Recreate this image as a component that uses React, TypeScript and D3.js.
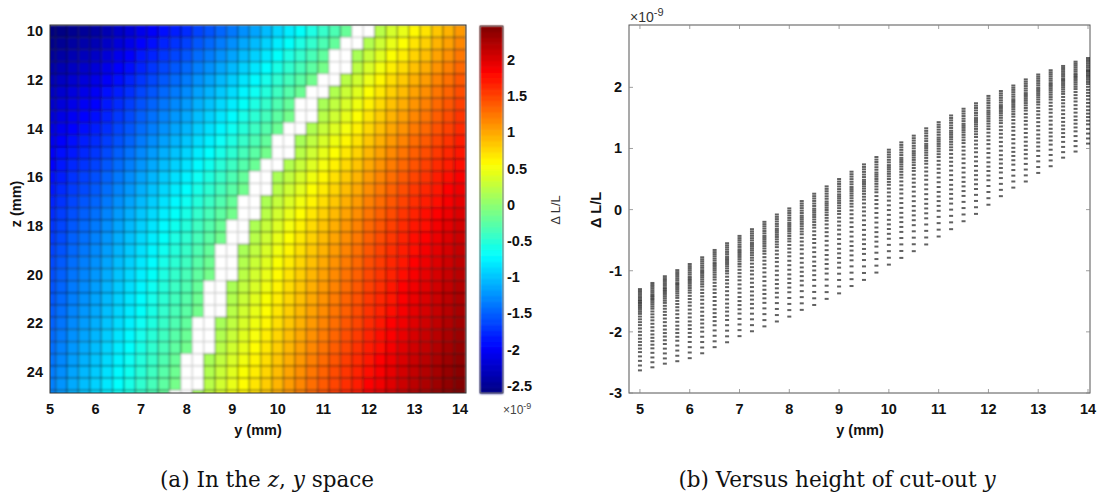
import React from "react";
import * as d3 from "d3";

// Cut-out height y (mm): one heat-map column / one scatter column each
const Y_MM = [
  5, 5.25, 5.5, 5.75, 6, 6.25, 6.5, 6.75, 7, 7.25, 7.5, 7.75, 8, 8.25, 8.5, 8.75,
  9, 9.25, 9.5, 9.75, 10, 10.25, 10.5, 10.75, 11, 11.25, 11.5, 11.75, 12, 12.25,
  12.5, 12.75, 13, 13.25, 13.5, 13.75, 14,
];

// Depth z (mm): heat-map rows
const Z_MM = [
  10, 10.5, 11, 11.5, 12, 12.5, 13, 13.5, 14, 14.5, 15, 15.5, 16, 16.5, 17, 17.5,
  18, 18.5, 19, 19.5, 20, 20.5, 21, 21.5, 22, 22.5, 23, 23.5, 24, 24.5, 25,
];

// ΔL/L (×1e-9) at the largest z for each y column
const COL_MAX = [
  -1.3, -1.2, -1.09, -0.99, -0.89, -0.78, -0.66, -0.55, -0.43, -0.32, -0.2, -0.08,
  0.02, 0.14, 0.26, 0.38, 0.5, 0.62, 0.74, 0.86, 0.98, 1.1, 1.21, 1.33, 1.43, 1.54,
  1.65, 1.74, 1.86, 1.94, 2.03, 2.13, 2.21, 2.28, 2.35, 2.42, 2.48,
];

// ΔL/L (×1e-9) at the smallest z for each y column
const COL_MIN = [
  -2.63, -2.58, -2.52, -2.48, -2.43, -2.35, -2.25, -2.17, -2.07, -1.99, -1.91,
  -1.83, -1.75, -1.64, -1.56, -1.46, -1.37, -1.25, -1.15, -1.03, -0.9, -0.79, -0.68,
  -0.57, -0.44, -0.32, -0.19, -0.07, 0.08, 0.22, 0.36, 0.46, 0.6, 0.71, 0.85, 0.95,
  1.08,
];

// Position of each z row between the column minimum (0) and maximum (1)
const Z_PROFILE = [
  0, 0.06, 0.117, 0.172, 0.225, 0.268, 0.31, 0.35, 0.39, 0.433, 0.475, 0.516,
  0.557, 0.593, 0.628, 0.662, 0.695, 0.72, 0.745, 0.768, 0.79, 0.81, 0.83, 0.848,
  0.866, 0.89, 0.912, 0.935, 0.957, 0.978, 1,
];

// Values inside this band are left blank in the map
const NULL_BAND = [-0.11, 0.13];

const Y_TICKS = [5, 6, 7, 8, 9, 10, 11, 12, 13, 14];
const Z_TICKS = [10, 12, 14, 16, 18, 20, 22, 24];
const CBAR_TICKS = [-2.5, -2, -1.5, -1, -0.5, 0, 0.5, 1, 1.5, 2];
const CBAR_LIMITS = [-2.6, 2.47];
const DL_TICKS = [-3, -2, -1, 0, 1, 2];

const FONT = "'Liberation Sans', Arial, sans-serif";
const SERIF = "'DejaVu Serif', 'Liberation Serif', serif";

function jet(t: number): string {
  const c = (v: number) => Math.max(0, Math.min(1, v));
  const u = c(t);
  const r = c(1.5 - Math.abs(4 * u - 3));
  const g = c(1.5 - Math.abs(4 * u - 2));
  const b = c(1.5 - Math.abs(4 * u - 1));
  return d3.rgb(r * 255, g * 255, b * 255).toString();
}

const cellValue = (j: number, i: number) =>
  COL_MIN[j] + (COL_MAX[j] - COL_MIN[j]) * Z_PROFILE[i];

export default function App() {
  // Heat map frame
  const hx = d3.scaleLinear().domain([5, 14.13]).range([50, 466]);
  const hz = d3.scaleLinear().domain([9.74, 24.86]).range([25, 393]);
  const cNorm = d3.scaleLinear().domain(CBAR_LIMITS).range([0, 1]).clamp(true);

  // Colour bar
  const cb = { x0: 480, x1: 503 };
  const cy = d3.scaleLinear().domain(CBAR_LIMITS).range([393, 26]);
  const nCb = 64;
  const cbStep = (CBAR_LIMITS[1] - CBAR_LIMITS[0]) / nCb;
  const cbSteps = d3.range(nCb).map((k) => CBAR_LIMITS[0] + cbStep * k);

  // Scatter frame
  const sx = d3.scaleLinear().domain([4.78, 14.04]).range([629, 1090]);
  const sy = d3.scaleLinear().domain([-3, 3.02]).range([393, 25]);

  const halfY = 0.125;
  const halfZ = 0.25;

  const cells: JSX.Element[] = [];
  Y_MM.forEach((y, j) => {
    Z_MM.forEach((z, i) => {
      const v = cellValue(j, i);
      const blank = v > NULL_BAND[0] && v < NULL_BAND[1];
      const x0 = hx(y - halfY);
      const x1 = hx(y + halfY);
      const y0 = hz(z - halfZ);
      const y1 = hz(z + halfZ);
      cells.push(
        <rect
          key={`c${j}-${i}`}
          x={x0}
          y={y0}
          width={x1 - x0}
          height={y1 - y0}
          fill={blank ? "#ffffff" : jet(cNorm(v))}
          stroke={blank ? "rgba(190,190,190,0.5)" : "rgba(0,0,0,0.32)"}
          strokeWidth={1.4}
        />
      );
    });
  });

  const dots: JSX.Element[] = [];
  Y_MM.forEach((y, j) => {
    Z_MM.forEach((_z, i) => {
      const v = cellValue(j, i);
      dots.push(
        <rect
          key={`d${j}-${i}`}
          x={sx(y) - 2}
          y={sy(v) - 1}
          width={4}
          height={2}
          fill="#000"
          opacity={0.62}
        />
      );
    });
  });

  const tickLen = 4;

  return (
    <svg
      width={1099}
      height={499}
      viewBox="0 0 1099 499"
      style={{ position: "absolute", left: 0, top: 0, background: "#fff" }}
      fontFamily={FONT}
    >
      <defs>
        <clipPath id="heatClip">
          <rect x={50} y={25} width={416} height={368} />
        </clipPath>
        <filter id="soft" x="-5%" y="-5%" width="110%" height="110%">
          <feGaussianBlur stdDeviation={0.8} />
        </filter>
        <filter id="softDots" x="-5%" y="-5%" width="110%" height="110%">
          <feGaussianBlur stdDeviation={0.5} />
        </filter>
      </defs>

      {/* (a) heat map of ΔL/L over z and y */}
      <g clipPath="url(#heatClip)">
        <g filter="url(#soft)">{cells}</g>
      </g>
      <rect x={50} y={25} width={416} height={368} fill="none" stroke="#333" strokeWidth={1} />

      {Y_TICKS.map((t) => (
        <text key={`hx${t}`} x={hx(t)} y={414} textAnchor="middle" fontSize={14.5} fontWeight="bold" fill="#111">
          {t}
        </text>
      ))}
      {Z_TICKS.map((t) => (
        <text key={`hz${t}`} x={43} y={hz(t) + 5} textAnchor="end" fontSize={14.5} fontWeight="bold" fill="#111">
          {t}
        </text>
      ))}
      <text x={258} y={435} textAnchor="middle" fontSize={14.5} fontWeight="bold" fill="#111">
        y (mm)
      </text>
      <text
        transform="translate(21,204) rotate(-90)"
        textAnchor="middle"
        fontSize={14.5}
        fontWeight="bold"
        fill="#111"
      >
        z (mm)
      </text>

      {/* colour bar */}
      <g filter="url(#soft)">
        {cbSteps.map((v, k) => (
          <rect
            key={`cb${k}`}
            x={cb.x0}
            y={cy(v + cbStep)}
            width={cb.x1 - cb.x0}
            height={cy(v) - cy(v + cbStep) + 0.6}
            fill={jet(cNorm(v + cbStep / 2))}
          />
        ))}
      </g>
      <rect x={cb.x0} y={26} width={cb.x1 - cb.x0} height={367} fill="none" stroke="#555" strokeWidth={0.8} />
      {CBAR_TICKS.map((t) => (
        <text key={`cbt${t}`} x={507} y={cy(t) + 5} fontSize={14.5} fontWeight="bold" fill="#111">
          {t}
        </text>
      ))}
      <text transform="translate(560,210) rotate(-90)" textAnchor="middle" fontSize={13} fill="#333">
        Δ L/L
      </text>
      <text x={503} y={414} fontSize={12} fill="#444">
        ×10<tspan dy={-5} fontSize={9}>-9</tspan>
      </text>

      {/* (b) ΔL/L against y */}
      <rect x={629} y={25} width={461} height={368} fill="#fff" stroke="#555" strokeWidth={1} />
      <g filter="url(#softDots)">{dots}</g>
      {Y_TICKS.map((t) => (
        <g key={`sxt${t}`} stroke="#888" strokeWidth={0.8}>
          <line x1={sx(t)} x2={sx(t)} y1={393} y2={393 - tickLen} />
          <line x1={sx(t)} x2={sx(t)} y1={25} y2={25 + tickLen} />
        </g>
      ))}
      {DL_TICKS.map((t) => (
        <g key={`syt${t}`} stroke="#888" strokeWidth={0.8}>
          <line x1={629} x2={629 + tickLen} y1={sy(t)} y2={sy(t)} />
          <line x1={1090} x2={1090 - tickLen} y1={sy(t)} y2={sy(t)} />
        </g>
      ))}
      {Y_TICKS.map((t) => (
        <text key={`sxl${t}`} x={sx(t)} y={414} textAnchor="middle" fontSize={14.5} fontWeight="bold" fill="#111">
          {t}
        </text>
      ))}
      {DL_TICKS.map((t) => (
        <text key={`syl${t}`} x={622} y={sy(t) + 5} textAnchor="end" fontSize={14.5} fontWeight="bold" fill="#111">
          {t}
        </text>
      ))}
      <text x={860} y={435} textAnchor="middle" fontSize={14.5} fontWeight="bold" fill="#111">
        y (mm)
      </text>
      <text
        transform="translate(601,210) rotate(-90)"
        textAnchor="middle"
        fontSize={14.5}
        fontWeight="bold"
        fill="#111"
      >
        Δ L/L
      </text>
      <text x={630} y={22} fontSize={14} fill="#333">
        ×10<tspan dy={-6} fontSize={11}>-9</tspan>
      </text>

      {/* captions */}
      <text x={267} y={487} textAnchor="middle" fontFamily={SERIF} fontSize={21.5} fill="#111">
        (a) In the <tspan fontStyle="italic">z</tspan>, <tspan fontStyle="italic">y</tspan> space
      </text>
      <text x={837} y={487} textAnchor="middle" fontFamily={SERIF} fontSize={21.5} fill="#111">
        (b) Versus height of cut-out <tspan fontStyle="italic">y</tspan>
      </text>
    </svg>
  );
}
